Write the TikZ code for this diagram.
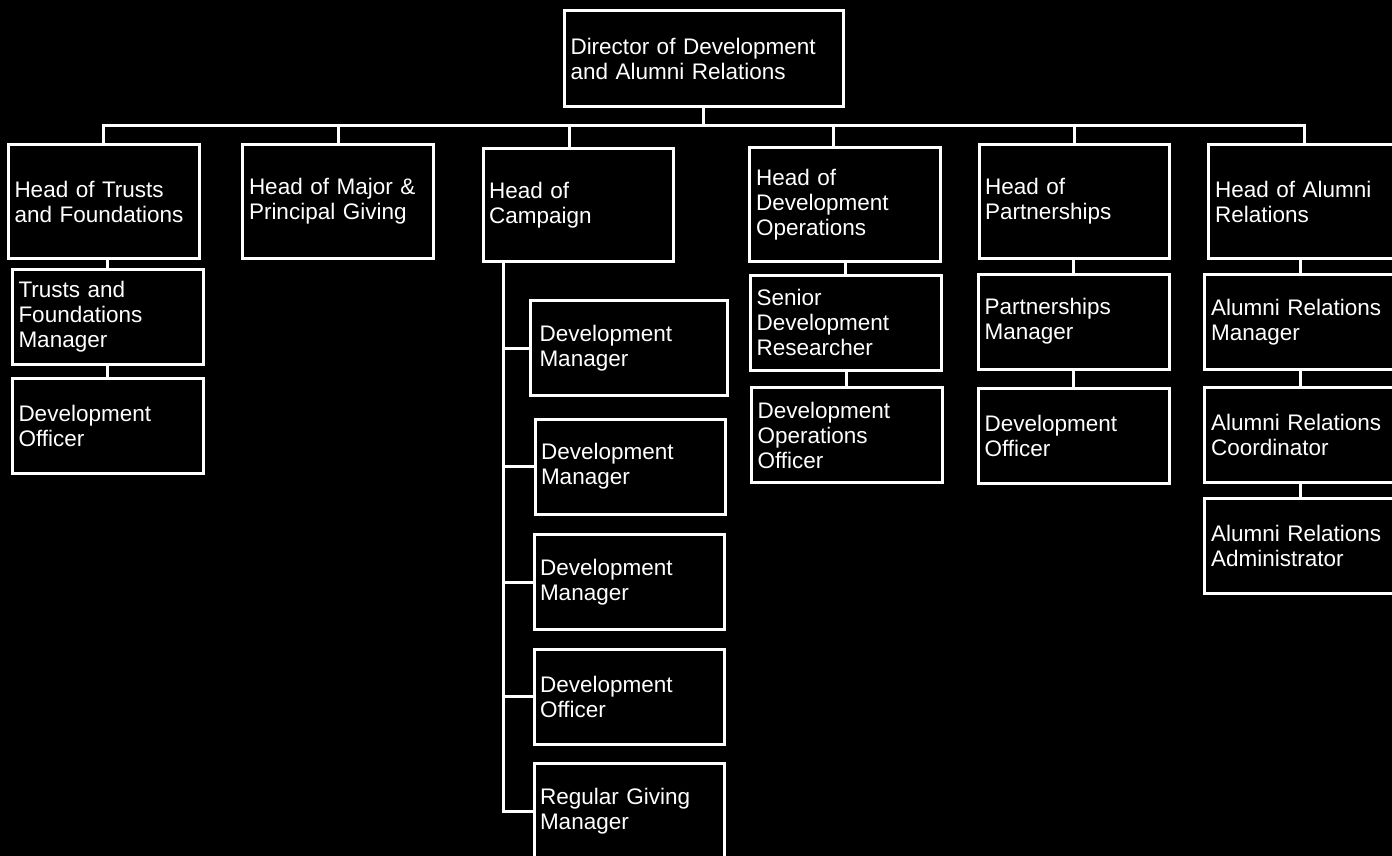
\documentclass[tikz,border=0pt]{standalone}
\usepackage{fontspec}
\setmainfont{Liberation Sans}
\usetikzlibrary{calc}
\tikzset{
  post/.style={draw=white, line width=3pt, fill=black, text=white, align=left,
    minimum width=191pt, minimum height=95pt, text width=178pt, inner sep=0pt,
    font=\fontsize{22.5}{25}\selectfont},
  head/.style={post, minimum height=113pt},
  link/.style={draw=white, line width=3pt}
}
\begin{document}
\begin{tikzpicture}[x=1pt, y=-1pt]
    \fill[black] (0,0) rectangle (1392,856);
    \useasboundingbox (0,0) rectangle (1392,856);
    % Director
    \node[post, minimum width=279pt, minimum height=96pt, text width=266pt]
      (dir) at (703.5,59) {Director of Development\\and Alumni Relations};
    % Heads
    \node[head] (trusts) at (103.5,201.5) {Head of Trusts\\and Foundations};
    \node[head] (major) at (338,201.5) {Head of Major \&\\Principal Giving};
    \node[head, minimum width=190pt] (camp) at (578,205) {Head of\\Campaign};
    \node[head] (devops) at (845,204.5) {Head of\\Development\\Operations};
    \node[head, minimum width=190pt] (partner) at (1074,201.5) {Head of\\Partnerships};
    \node[head] (alumni) at (1304,201.5) {Head of Alumni\\Relations};
    % Trusts team
    \node[post] (tfm) at (107.5,316.5) {Trusts and\\Foundations\\Manager};
    \node[post] (tdo) at (107.5,425.5) {Development\\Officer};
    % Campaign team
    \node[post, minimum width=197pt] (dma) at (628.5,348) {Development\\Manager};
    \node[post, minimum width=190pt] (dmb) at (630,466.5) {Development\\Manager};
    \node[post, minimum width=190pt] (dmc) at (629,582) {Development\\Manager};
    \node[post, minimum width=190pt] (cdo) at (629,696.5) {Development\\Officer};
    \node[post, minimum width=190pt] (rgm) at (629,811) {Regular Giving\\Manager};
    % Operations team
    \node[post] (sdr) at (845.5,322.5) {Senior\\Development\\Researcher};
    \node[post] (doo) at (846.5,435) {Development\\Operations\\Officer};
    % Partnerships team
    \node[post] (pm) at (1073.5,321.5) {Partnerships\\Manager};
    \node[post] (pdo) at (1073.5,435.5) {Development\\Officer};
    % Alumni team
    \node[post] (arm) at (1300,322) {Alumni Relations\\Manager};
    \node[post] (arc) at (1300,434.5) {Alumni Relations\\Coordinator};
    \node[post] (ara) at (1300,545.5) {Alumni Relations\\Administrator};

    % Bus under the director
    \coordinate (bus) at (704,126);
    \draw[link] (dir.south) -- (dir.south |- bus);
    \foreach \n in {trusts,major,partner,alumni}
      \draw[link] (bus) -| (\n.north);
    \draw[link] (bus) -| ([xshift=-9pt]camp.north);
    \draw[link] (bus) -| ([xshift=-12pt]devops.north);

    % Chains
    \draw[link] (tfm.north) -- (tfm.north |- trusts.south);
    \draw[link] (tdo.north) -- (tdo.north |- tfm.south);
    \draw[link] (sdr.north) -- (sdr.north |- devops.south);
    \draw[link] (doo.north) -- (doo.north |- sdr.south);
    \draw[link] (pm.north) -- (pm.north |- partner.south);
    \draw[link] (pdo.north) -- (pdo.north |- pm.south);
    \draw[link] (arm.north) -- (arm.north |- alumni.south);
    \draw[link] (arc.north) -- (arc.north |- arm.south);
    \draw[link] (ara.north) -- (ara.north |- arc.south);

    % Campaign spine
    \coordinate (spine) at ([xshift=-75pt]camp.south);
    \foreach \n in {dma,dmb,dmc,cdo,rgm}
      \draw[link] (spine) |- (\n.west);
\end{tikzpicture}
\end{document}
